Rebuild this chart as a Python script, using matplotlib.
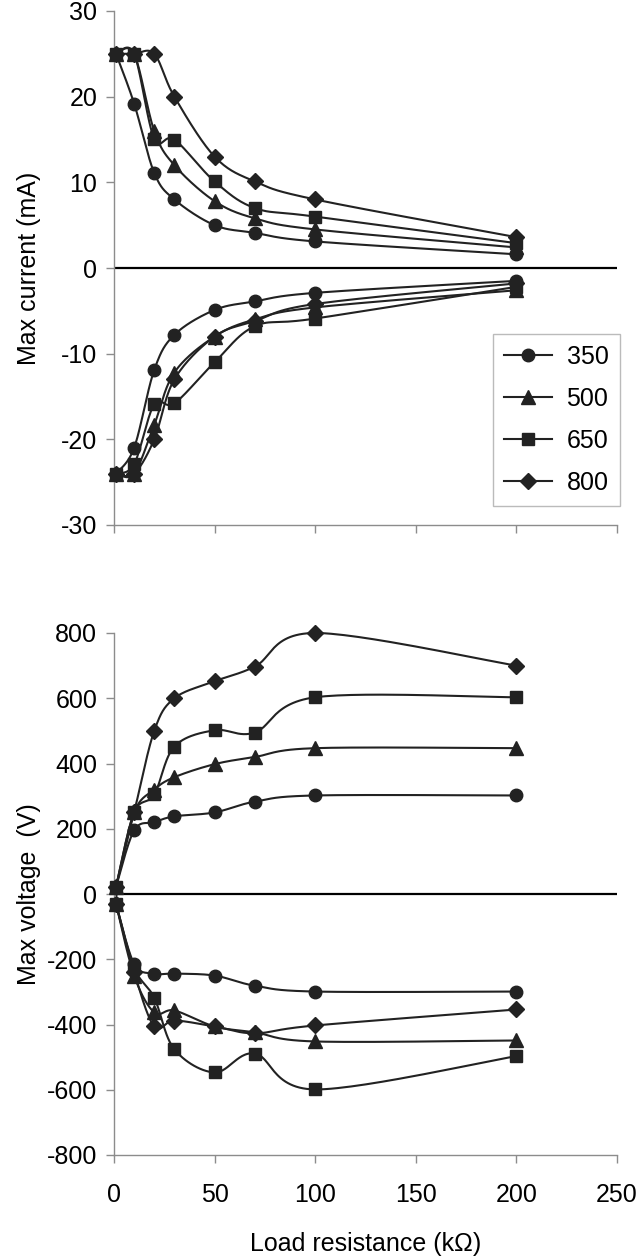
import numpy as np
import matplotlib
matplotlib.use("Agg")
import matplotlib.pyplot as plt
from matplotlib.lines import Line2D

plt.rcParams['font.family'] = ['Liberation Sans', 'DejaVu Sans']
plt.rcParams['axes.unicode_minus'] = False

# ---------------- data ----------------
load_kohm = [1, 10, 20, 30, 50, 70, 100, 200]
series_labels = ["350", "500", "650", "800"]
markers = ["o", "^", "s", "D"]

cur_pos_350 = [25, 19.2, 11.1, 8.0, 5.0, 4.1, 3.1, 1.6]
cur_pos_500 = [25, 25, 16.0, 12.0, 7.8, 5.8, 4.5, 2.4]
cur_pos_650 = [25, 25, 15.1, 15.0, 10.1, 7.0, 6.0, 2.9]
cur_pos_800 = [25, 25, 25, 20.0, 13.0, 10.1, 8.0, 3.6]

cur_neg_350 = [-24, -21.0, -11.9, -7.8, -4.9, -3.9, -2.9, -1.5]
cur_neg_500 = [-24, -24, -18.3, -12.2, -8.0, -6.0, -4.6, -2.6]
cur_neg_650 = [-24, -22.9, -15.9, -15.8, -11.0, -6.8, -5.9, -2.2]
cur_neg_800 = [-24, -24, -20.0, -13.0, -8.0, -6.2, -4.2, -1.8]

volt_pos_350 = [22, 195, 220, 238, 250, 283, 302, 302]
volt_pos_500 = [22, 250, 320, 358, 398, 420, 447, 447]
volt_pos_650 = [22, 250, 305, 452, 502, 495, 603, 603]
volt_pos_800 = [22, 250, 500, 600, 652, 697, 800, 700]

volt_neg_350 = [-30, -214, -244, -244, -250, -281, -299, -299]
volt_neg_500 = [-30, -250, -363, -357, -406, -424, -452, -449]
volt_neg_650 = [-30, -226, -318, -476, -547, -489, -599, -497]
volt_neg_800 = [-30, -240, -406, -388, -406, -427, -403, -354]

current_sets = [(cur_pos_350, cur_neg_350), (cur_pos_500, cur_neg_500),
                (cur_pos_650, cur_neg_650), (cur_pos_800, cur_neg_800)]
voltage_sets = [(volt_pos_350, volt_neg_350), (volt_pos_500, volt_neg_500),
                (volt_pos_650, volt_neg_650), (volt_pos_800, volt_neg_800)]

INK = "#222222"
GRAY = "#8c8c8c"


def smooth(x, y, sx, sy, n=30):
    """Excel-like smoothed line (Catmull-Rom Bezier) in screen-scaled space."""
    P = np.column_stack([np.asarray(x, float) * sx, np.asarray(y, float) * sy])
    out = [P[0]]
    m = len(P)
    for i in range(m - 1):
        p0 = P[i - 1] if i > 0 else P[i]
        p1 = P[i]
        p2 = P[i + 1]
        p3 = P[i + 2] if i + 2 < m else P[i + 1]
        c1 = p1 + (p2 - p0) / 6.0
        c2 = p2 - (p3 - p1) / 6.0
        t = np.linspace(0, 1, n)[1:, None]
        seg = ((1 - t) ** 3) * p1 + 3 * ((1 - t) ** 2) * t * c1 + 3 * (1 - t) * t ** 2 * c2 + t ** 3 * p2
        out.extend(seg)
    out = np.array(out)
    return out[:, 0] / sx, out[:, 1] / sy


fig = plt.figure(figsize=(6.4, 12.57), dpi=100)
W, H = 640, 1257
x0, x1 = 114, 617
ax1 = fig.add_axes([x0 / W, 1 - 525 / H, (x1 - x0) / W, (525 - 11) / H])
ax2 = fig.add_axes([x0 / W, 1 - 1155 / H, (x1 - x0) / W, (1155 - 633) / H])

FS = 18
ms_map = {"o": 9, "^": 10, "s": 9, "D": 8}


def style(ax, ylim, yticks):
    ax.set_xlim(0, 250)
    ax.set_ylim(*ylim)
    ax.set_yticks(yticks)
    ax.set_xticks([0, 50, 100, 150, 200, 250])
    for s in ["top", "right"]:
        ax.spines[s].set_visible(False)
    for s in ["left", "bottom"]:
        ax.spines[s].set_color(GRAY)
        ax.spines[s].set_linewidth(1.0)
    ax.tick_params(axis="both", which="both", direction="out", length=6,
                   width=1.0, color=GRAY, labelsize=FS, labelcolor="black", pad=6)
    ax.tick_params(axis="x", pad=14)
    ax.axhline(0, color="black", lw=1.6, zorder=1)


# top panel: current
style(ax1, (-30, 30), [-30, -20, -10, 0, 10, 20, 30])
ax1.tick_params(axis="x", labelbottom=False)
sx1 = 503 / 250.0
sy1 = 514 / 60.0
for (pos, neg), mk in zip(current_sets, markers):
    for yy in (pos, neg):
        xs, ys = smooth(load_kohm, yy, sx1, sy1)
        ax1.plot(xs, ys, color=INK, lw=1.5, zorder=2, clip_on=False)
        ax1.plot(load_kohm, yy, ls="none", marker=mk, ms=ms_map[mk], color=INK,
                 mec=INK, zorder=3, clip_on=False)
ax1.set_ylabel("Max current (mA)", fontsize=FS)
ax1.yaxis.set_label_coords(-0.145, 0.5)

handles = [Line2D([0], [0], color=INK, lw=1.5, marker=mk, ms=ms_map[mk], mec=INK)
           for mk in markers]
leg = ax1.legend(handles, series_labels, loc="upper left",
                 bbox_to_anchor=(0.753, 0.372), fontsize=FS, frameon=True,
                 fancybox=False, edgecolor="#aaaaaa", handlelength=1.9,
                 handletextpad=0.6, labelspacing=0.72, borderpad=0.45,
                 borderaxespad=0.0)
leg.get_frame().set_linewidth(1.0)

# bottom panel: voltage
style(ax2, (-800, 800), [-800, -600, -400, -200, 0, 200, 400, 600, 800])
sy2 = 522 / 1600.0
for (pos, neg), mk in zip(voltage_sets, markers):
    for yy in (pos, neg):
        xs, ys = smooth(load_kohm, yy, sx1, sy2)
        ax2.plot(xs, ys, color=INK, lw=1.5, zorder=2, clip_on=False)
        ax2.plot(load_kohm, yy, ls="none", marker=mk, ms=ms_map[mk], color=INK,
                 mec=INK, zorder=3, clip_on=False)
ax2.set_ylabel("Max voltage  (V)", fontsize=FS)
ax2.yaxis.set_label_coords(-0.145, 0.5)
ax2.set_xlabel("Load resistance (k\u03a9)", fontsize=FS, labelpad=18)

fig.savefig("out.png", dpi=100)
